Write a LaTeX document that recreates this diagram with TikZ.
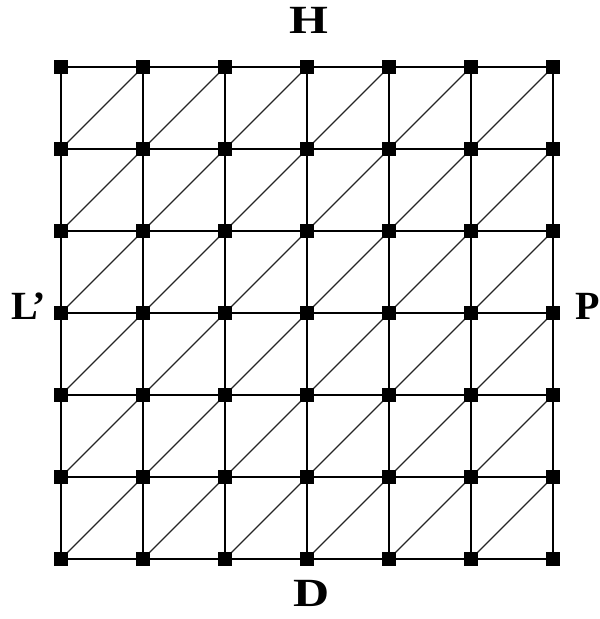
\documentclass[tikz,border=0pt]{standalone}
\usepackage{fontspec}
\setmainfont{Liberation Serif}
\begin{document}
\begin{tikzpicture}[x=1pt,y=-1pt,
  vtx/.style={fill=black,draw=none,minimum size=14pt,inner sep=0pt,outer sep=0pt,rectangle},
  gridline/.style={line width=1.8pt,black},
  diagline/.style={line width=1.2pt,black!85},
  lbl/.style={font=\fontsize{40}{40}\selectfont\bfseries,inner sep=0pt,anchor=base}]
\useasboundingbox (0,0) rectangle (600,619);
% coordinates
\foreach \i in {0,...,6}{
  \foreach \j in {0,...,6}{
    \coordinate (c-\i-\j) at ({61+82*\i},{67+82*\j});
  }
}
% grid lines
\foreach \k in {0,...,6}{
  \draw[gridline] (c-0-\k) -- (c-6-\k);
  \draw[gridline] (c-\k-0) -- (c-\k-6);
}
% diagonals: bottom-left to top-right in each cell
\foreach \i [evaluate=\i as \ip using int(\i+1)] in {0,...,5}{
  \foreach \j [evaluate=\j as \jp using int(\j+1)] in {0,...,5}{
    \draw[diagline] (c-\i-\jp) -- (c-\ip-\j);
  }
}
% vertices
\foreach \i in {0,...,6}{
  \foreach \j in {0,...,6}{
    \node[vtx] (n-\i-\j) at (c-\i-\j) {};
  }
}
% labels
\node[lbl,xscale=1.25] (H) at (308.5,33) {H};
\node[lbl,xscale=1.25] (D) at (312,606) {D};
\node[lbl,anchor=base west] (L) at (11,319) {L\kern-5pt’};
\node[lbl,anchor=base west] (P) at (575,319) {P};
\end{tikzpicture}
\end{document}
